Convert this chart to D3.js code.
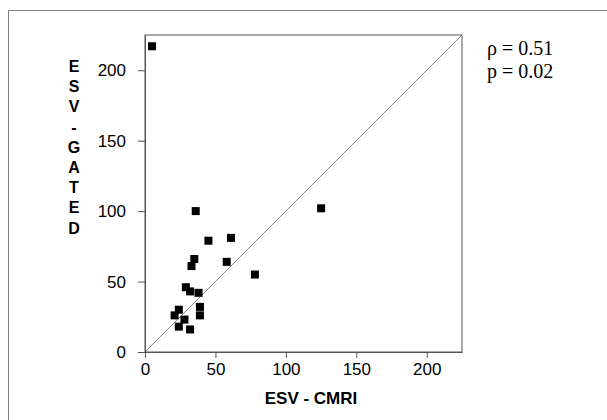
<!DOCTYPE html>
<html>
<head>
<meta charset="utf-8">
<script src="https://cdn.jsdelivr.net/npm/d3@7"></script>
<style>
  body { margin: 0; background: #fff; }
  svg { display: block; }
</style>
</head>
<body>
<div id="chart"></div>
<script>
// ESV by CMRI vs ESV by gated method
const esvCmri  = [5, 125, 36, 61, 45, 35, 33, 58, 78, 29, 32, 38, 39, 39, 24, 21, 28, 24, 32];
const esvGated = [217, 102, 100, 81, 79, 66, 61, 64, 55, 46, 43, 42, 32, 26, 30, 26, 23, 18, 16];
const tickValues = [0, 50, 100, 150, 200];
const yLabel = "ESV-GATED";
const xLabel = "ESV - CMRI";
const stats = ["\u03C1 = 0.51", "p = 0.02"];

const width = 607, height = 420;
const margin = { left: 145, top: 35 };
const plotW = 317, plotH = 317;

const svg = d3.select('#chart').append('svg')
  .attr('width', width)
  .attr('height', height);

// outer frame (runs off the right/bottom edge)
svg.append('rect')
  .attr('x', 8.5).attr('y', 10.5)
  .attr('width', 700).attr('height', 500)
  .attr('fill', 'none')
  .attr('stroke', '#808080');

const x = d3.scaleLinear().domain([0, 225]).range([margin.left, margin.left + plotW]);
const y = d3.scaleLinear().domain([0, 225]).range([margin.top + plotH, margin.top]);

// plot box
svg.append('rect')
  .attr('x', x(0)).attr('y', y(225))
  .attr('width', x(225) - x(0)).attr('height', y(0) - y(225))
  .attr('fill', 'none')
  .attr('stroke', '#555');

// identity line
svg.append('line')
  .attr('x1', x(0)).attr('y1', y(0))
  .attr('x2', x(225)).attr('y2', y(225))
  .attr('stroke', '#888')
  .attr('stroke-width', 1);

const xAxis = svg.append('g')
  .attr('transform', 'translate(0,' + y(0) + ')')
  .call(d3.axisBottom(x).tickValues(tickValues).tickSize(6).tickPadding(5).tickSizeOuter(0));
const yAxis = svg.append('g')
  .attr('transform', 'translate(' + x(0) + ',0)')
  .call(d3.axisLeft(y).tickValues(tickValues).tickSize(7).tickPadding(12).tickSizeOuter(0));

[xAxis, yAxis].forEach(g => {
  g.select('.domain').attr('stroke', '#555');
  g.selectAll('.tick line').attr('stroke', '#555');
  g.selectAll('.tick text')
    .attr('fill', '#000')
    .style('font-family', 'Arial, "Liberation Sans", sans-serif')
    .style('font-size', '17px');
});

// points
const s = 8;
svg.append('g').selectAll('rect')
  .data(d3.zip(esvCmri, esvGated))
  .enter().append('rect')
  .attr('x', d => x(d[0]) - s / 2)
  .attr('y', d => y(d[1]) - s / 2)
  .attr('width', s).attr('height', s)
  .attr('fill', '#000');

// x label
svg.append('text')
  .attr('x', 311).attr('y', 404)
  .attr('text-anchor', 'middle')
  .style('font-family', 'Arial, "Liberation Sans", sans-serif')
  .style('font-weight', 'bold')
  .style('font-size', '17px')
  .text(xLabel);

// y label, stacked letters
svg.append('g').selectAll('text')
  .data(yLabel.split(''))
  .enter().append('text')
  .attr('x', 74)
  .attr('y', (d, i) => 72 + i * 20.2)
  .attr('text-anchor', 'middle')
  .style('font-family', 'Arial, "Liberation Sans", sans-serif')
  .style('font-weight', 'bold')
  .style('font-size', '16px')
  .text(d => d);

// stats
svg.append('g').selectAll('text')
  .data(stats)
  .enter().append('text')
  .attr('x', 487)
  .attr('y', (d, i) => 55 + i * 22.5)
  .style('font-family', '"Liberation Serif", "Times New Roman", serif')
  .style('font-size', '20px')
  .text(d => d);
</script>
</body>
</html>
